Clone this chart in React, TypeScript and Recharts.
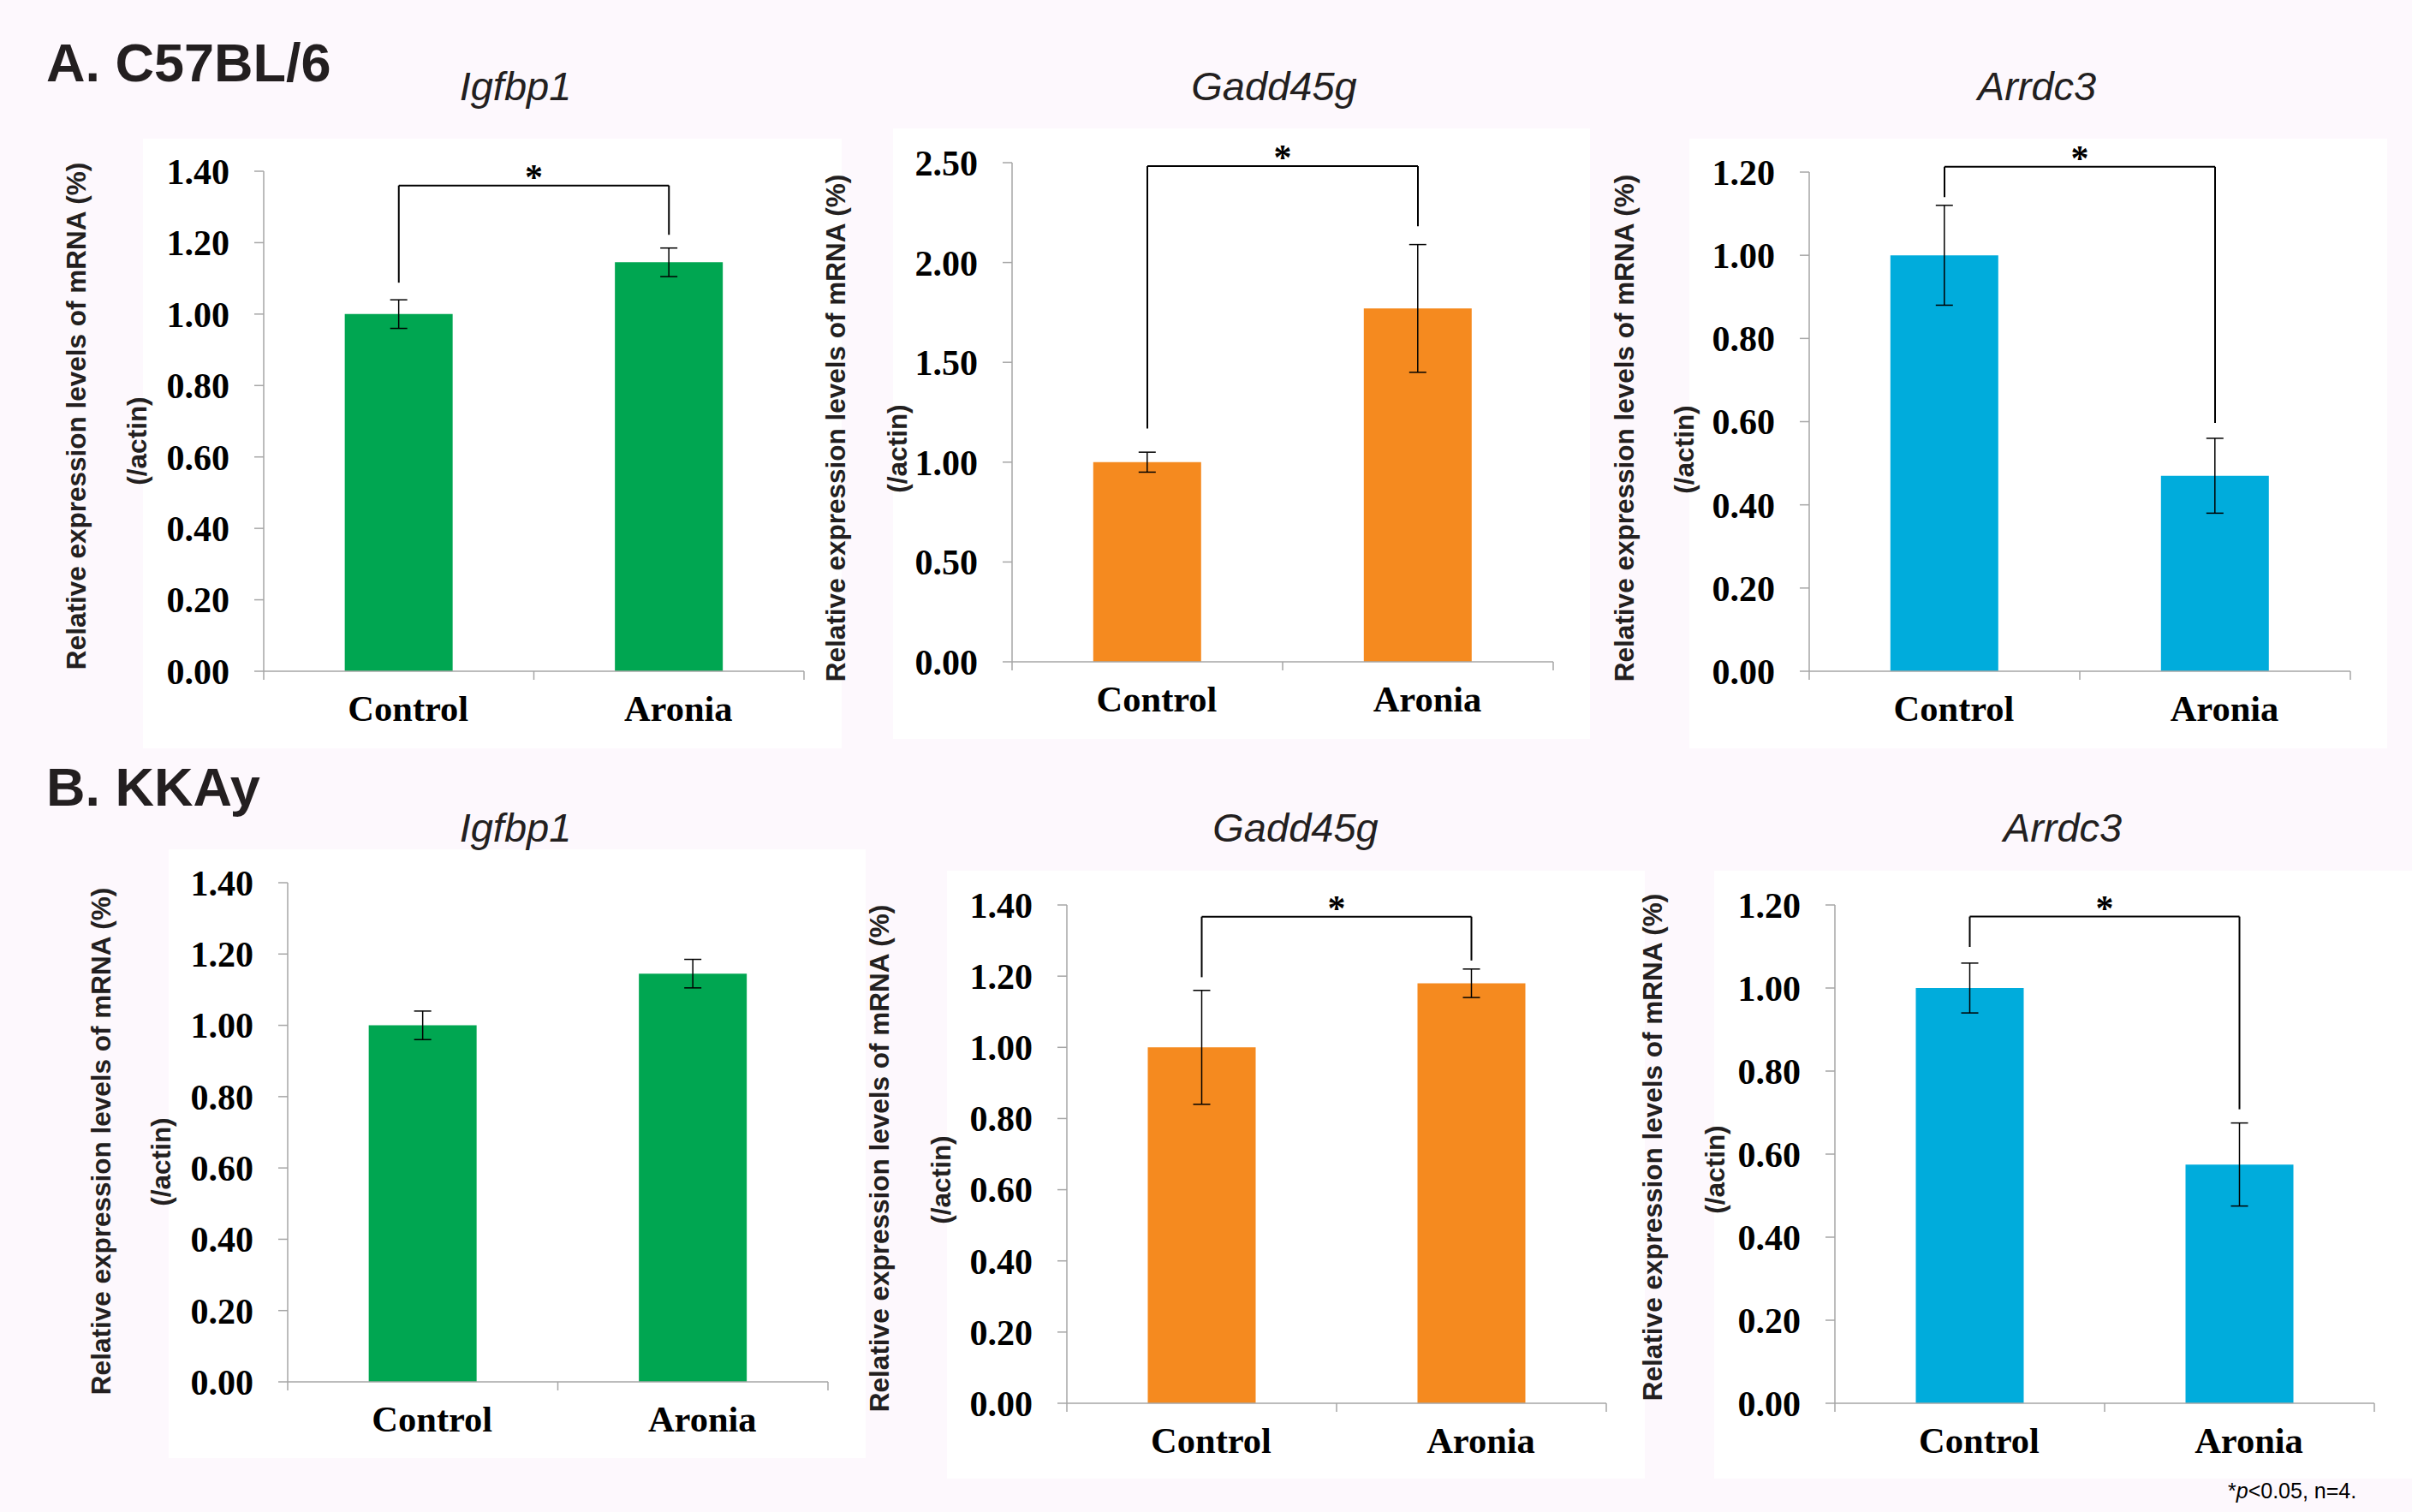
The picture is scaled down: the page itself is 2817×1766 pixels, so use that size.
import React from 'react';
import { BarChart, Bar, XAxis, YAxis, ErrorBar, ReferenceLine } from 'recharts';

// ---------- data ----------
const categories = ['Control', 'Aronia'];

// A. C57BL/6
const c57Igfbp1Values = [1.0, 1.145];
const c57Igfbp1Errors = [0.04, 0.04];
const c57Gadd45gValues = [1.0, 1.77];
const c57Gadd45gErrors = [0.05, 0.32];
const c57Arrdc3Values = [1.0, 0.47];
const c57Arrdc3Errors = [0.12, 0.09];

// B. KKAy
const kkIgfbp1Values = [1.0, 1.145];
const kkIgfbp1Errors = [0.04, 0.04];
const kkGadd45gValues = [1.0, 1.18];
const kkGadd45gErrors = [0.16, 0.04];
const kkArrdc3Values = [1.0, 0.575];
const kkArrdc3Errors = [0.06, 0.1];

// y-axis tick labels
const ticks140 = [0, 0.2, 0.4, 0.6, 0.8, 1.0, 1.2, 1.4];
const ticks250 = [0, 0.5, 1.0, 1.5, 2.0, 2.5];
const ticks120 = [0, 0.2, 0.4, 0.6, 0.8, 1.0, 1.2];

// significance brackets: [bracket level, Control leg end, Aronia leg end]
const c57Igfbp1Bracket = [1.36, 1.088, 1.222];
const c57Gadd45gBracket = [2.483, 1.168, 2.182];
const c57Arrdc3Bracket = [1.213, 1.14, 0.597];
const kkGadd45gBracket = [1.367, 1.197, 1.244];
const kkArrdc3Bracket = [1.172, 1.099, 0.708];

const geneTitles = ['Igfbp1', 'Gadd45g', 'Arrdc3'];
const groupTitles = ['A. C57BL/6', 'B. KKAy'];
const yLabelLine1 = 'Relative expression levels of mRNA (%)';
const yLabelLine2 = '(/actin)';
const sigMark = '*';

// ---------- style ----------
const BG = '#fdf8fd';
const GREEN = '#00a651';
const ORANGE = '#f58a1f';
const BLUE = '#00acdc';
const AXIS_COLOR = '#a6a6a6';
const SANS = '"Liberation Sans", Arial, sans-serif';
const SERIF = '"Liberation Serif", "Times New Roman", serif';

const YAXIS_W = 130;
const MARGIN_TOP = 70;
const MARGIN_RIGHT = 20;
const XAXIS_H = 90;

type PanelCfg = {
  values: number[];
  errors: number[];
  ticks: number[];
  bracket: number[] | null;
  color: string;
  title: string;
  box: number[]; // panel white box [x0,y0,x1,y1]
  plot: number[]; // plot area [left, top, right, bottom]
  titlePos: number[];
  label1: number[];
  label2: number[];
};

const panels: PanelCfg[] = [
  {
    values: c57Igfbp1Values, errors: c57Igfbp1Errors, ticks: ticks140, bracket: c57Igfbp1Bracket,
    color: GREEN, title: geneTitles[0],
    box: [167, 162, 983, 874], plot: [308, 200, 939, 784],
    titlePos: [602, 117], label1: [89, 486], label2: [160, 515],
  },
  {
    values: c57Gadd45gValues, errors: c57Gadd45gErrors, ticks: ticks250, bracket: c57Gadd45gBracket,
    color: ORANGE, title: geneTitles[1],
    box: [1043, 150, 1857, 863], plot: [1182, 190, 1814, 773],
    titlePos: [1488, 117], label1: [976, 500], label2: [1048, 524],
  },
  {
    values: c57Arrdc3Values, errors: c57Arrdc3Errors, ticks: ticks120, bracket: c57Arrdc3Bracket,
    color: BLUE, title: geneTitles[2],
    box: [1973, 162, 2788, 874], plot: [2113, 201, 2745, 784],
    titlePos: [2379, 117], label1: [1897, 500], label2: [1967, 525],
  },
  {
    values: kkIgfbp1Values, errors: kkIgfbp1Errors, ticks: ticks140, bracket: null,
    color: GREEN, title: geneTitles[0],
    box: [197, 992, 1011, 1703], plot: [336, 1031, 967, 1614],
    titlePos: [602, 983], label1: [118, 1333], label2: [188, 1357],
  },
  {
    values: kkGadd45gValues, errors: kkGadd45gErrors, ticks: ticks140, bracket: kkGadd45gBracket,
    color: ORANGE, title: geneTitles[1],
    box: [1106, 1017, 1921, 1727], plot: [1246, 1057, 1876, 1639],
    titlePos: [1513, 983], label1: [1027, 1353], label2: [1099, 1378],
  },
  {
    values: kkArrdc3Values, errors: kkArrdc3Errors, ticks: ticks120, bracket: kkArrdc3Bracket,
    color: BLUE, title: geneTitles[2],
    box: [2002, 1017, 2817, 1727], plot: [2143, 1057, 2773, 1639],
    titlePos: [2409, 983], label1: [1930, 1340], label2: [2003, 1366],
  },
];

function makeXTick(bandHalf: number, axisY: number) {
  return (props: any) => {
    const { x, payload, index, visibleTicksCount } = props;
    const isLast = index === visibleTicksCount - 1;
    return (
      <g>
        <line x1={x - bandHalf} x2={x - bandHalf} y1={axisY} y2={axisY + 10} stroke={AXIS_COLOR} strokeWidth={1.5} />
        {isLast && (
          <line x1={x + bandHalf} x2={x + bandHalf} y1={axisY} y2={axisY + 10} stroke={AXIS_COLOR} strokeWidth={1.5} />
        )}
        <text
          x={x + 11}
          y={axisY + 58}
          textAnchor="middle"
          fontFamily={SERIF}
          fontWeight="bold"
          fontSize={42.5}
          fill="#000"
        >
          {payload.value}
        </text>
      </g>
    );
  };
}

function Panel({ cfg }: { cfg: PanelCfg }) {
  const [pl, pt, pr, pb] = cfg.plot;
  const plotW = pr - pl;
  const plotH = pb - pt;
  const width = YAXIS_W + plotW + MARGIN_RIGHT;
  const height = MARGIN_TOP + plotH + XAXIS_H;
  const data = categories.map((name, i) => ({ name, value: cfg.values[i], err: cfg.errors[i] }));
  const yMax = cfg.ticks[cfg.ticks.length - 1];
  const bandHalf = plotW / (2 * categories.length);
  const localAxisY = MARGIN_TOP + plotH;
  const br = cfg.bracket;
  const lineProps = { stroke: '#000', strokeWidth: 2, ifOverflow: 'visible' as const };

  return (
    <div style={{ position: 'absolute', left: pl - YAXIS_W, top: pt - MARGIN_TOP, width, height }}>
      <BarChart
        width={width}
        height={height}
        data={data}
        margin={{ top: MARGIN_TOP, right: MARGIN_RIGHT, bottom: 0, left: 0 }}
        barCategoryGap="30%"
      >
        <XAxis
          dataKey="name"
          height={XAXIS_H}
          axisLine={{ stroke: AXIS_COLOR, strokeWidth: 1.5 }}
          tickLine={false}
          tickSize={0}
          tickMargin={0}
          interval={0}
          tick={makeXTick(bandHalf, localAxisY)}
        />
        <YAxis
          width={YAXIS_W}
          domain={[0, yMax]}
          ticks={cfg.ticks}
          interval={0}
          allowDataOverflow
          tickFormatter={(v: number) => v.toFixed(2)}
          axisLine={{ stroke: AXIS_COLOR, strokeWidth: 1.5 }}
          tickLine={{ stroke: AXIS_COLOR, strokeWidth: 1.5 }}
          tickSize={11}
          tickMargin={29}
          tick={{ fontFamily: SERIF, fontWeight: 'bold', fontSize: 42, fill: '#000' }}
        />
        <Bar dataKey="value" fill={cfg.color} isAnimationActive={false}>
          <ErrorBar dataKey="err" width={10} stroke="#000" strokeWidth={1.5} isAnimationActive={false} />
        </Bar>
        {br && (
          <ReferenceLine
            segment={[{ x: categories[0], y: br[0] }, { x: categories[1], y: br[0] }]}
            {...lineProps}
            label={{
              value: sigMark,
              position: 'top',
              offset: -4,
              fill: '#000',
              fontSize: 42,
              fontFamily: SERIF,
              fontWeight: 'bold',
            }}
          />
        )}
        {br && (
          <ReferenceLine segment={[{ x: categories[0], y: br[1] }, { x: categories[0], y: br[0] }]} {...lineProps} />
        )}
        {br && (
          <ReferenceLine segment={[{ x: categories[1], y: br[2] }, { x: categories[1], y: br[0] }]} {...lineProps} />
        )}
      </BarChart>
    </div>
  );
}

export default function App() {
  return (
    <div
      style={{
        position: 'absolute',
        left: 0,
        top: 0,
        width: 2817,
        height: 1766,
        background: BG,
        overflow: 'hidden',
      }}
    >
      {panels.map((p, i) => (
        <div
          key={'box' + i}
          style={{
            position: 'absolute',
            left: p.box[0],
            top: p.box[1],
            width: p.box[2] - p.box[0],
            height: p.box[3] - p.box[1],
            background: '#ffffff',
          }}
        />
      ))}
      {panels.map((p, i) => (
        <Panel key={'panel' + i} cfg={p} />
      ))}
      <svg
        width={2817}
        height={1766}
        style={{ position: 'absolute', left: 0, top: 0, pointerEvents: 'none' }}
      >
        <text x={54} y={95} fontFamily={SANS} fontWeight="bold" fontSize={63} fill="#231f20">
          {groupTitles[0]}
        </text>
        <text x={54} y={941} fontFamily={SANS} fontWeight="bold" fontSize={63} fill="#231f20">
          {groupTitles[1]}
        </text>
        {panels.map((p, i) => (
          <g key={'txt' + i}>
            <text
              x={p.titlePos[0]}
              y={p.titlePos[1]}
              textAnchor="middle"
              fontFamily={SANS}
              fontStyle="italic"
              fontSize={47}
              fill="#231f20"
            >
              {p.title}
            </text>
            <text
              x={p.label1[0]}
              y={p.label1[1]}
              transform={`rotate(-90, ${p.label1[0]}, ${p.label1[1]})`}
              textAnchor="middle"
              dominantBaseline="central"
              fontFamily={SANS}
              fontWeight="bold"
              fontSize={31.5}
              fill="#231f20"
            >
              {yLabelLine1}
            </text>
            <text
              x={p.label2[0]}
              y={p.label2[1]}
              transform={`rotate(-90, ${p.label2[0]}, ${p.label2[1]})`}
              textAnchor="middle"
              dominantBaseline="central"
              fontFamily={SANS}
              fontWeight="bold"
              fontSize={31.5}
              fill="#231f20"
            >
              {yLabelLine2}
            </text>
          </g>
        ))}
        <text x={2602} y={1750} fontFamily={SANS} fontSize={25} fill="#000">
          *<tspan fontStyle="italic">p</tspan>&lt;0.05, n=4.
        </text>
      </svg>
    </div>
  );
}
